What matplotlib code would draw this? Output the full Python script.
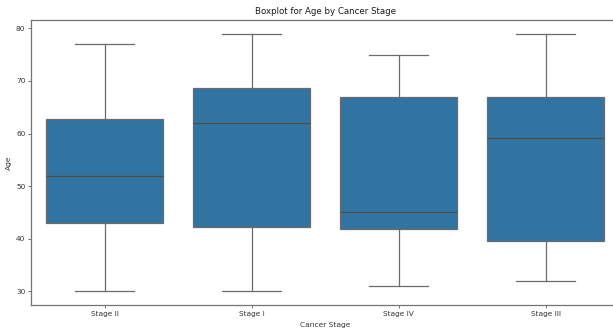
import matplotlib
matplotlib.use("Agg")
import matplotlib.pyplot as plt

stages = ["Stage II", "Stage I", "Stage IV", "Stage III"]
whislo = [30, 30, 31, 32]
q1 = [43.0, 42.2, 41.9, 39.5]
med = [52.0, 62.0, 45.0, 59.1]
q3 = [62.8, 68.75, 66.9, 66.9]
whishi = [77, 79, 75, 79]

fill = "#3274a1"
lc = "0.42"

fig = plt.figure(figsize=(6.13, 3.29), dpi=100)
ax = fig.add_axes([31/613, 24/329, 588/613, 285/329])

stats = [dict(label=s, whislo=a, q1=b, med=c, q3=d, whishi=e, fliers=[])
         for s, a, b, c, d, e in zip(stages, whislo, q1, med, q3, whishi)]
ax.bxp(stats, positions=range(len(stages)), widths=0.8, patch_artist=True,
       showfliers=False,
       boxprops=dict(facecolor=fill, edgecolor=lc, linewidth=0.9),
       medianprops=dict(color="0.3", linewidth=0.9),
       whiskerprops=dict(color=lc, linewidth=0.9),
       capprops=dict(color=lc, linewidth=0.9),
       capwidths=0.4)
ax.set_xlim(-0.5, 3.5)
ax.set_ylim(27.4, 81.6)
ax.set_yticks([30, 40, 50, 60, 70, 80])
ax.tick_params(labelsize=5.3, length=2, width=0.6, pad=2, color="0.35", labelcolor="0.2")
for s in ax.spines.values():
    s.set_linewidth(0.9)
    s.set_color("0.45")
ax.set_xlabel("Cancer Stage", fontsize=5.4, labelpad=4, color="0.2")
ax.set_ylabel("Age", fontsize=5.4, labelpad=3, color="0.2")
ax.set_title("Boxplot for Age by Cancer Stage", fontsize=6.2, pad=4, color="0.1")
fig.savefig("out.png", dpi=100)
